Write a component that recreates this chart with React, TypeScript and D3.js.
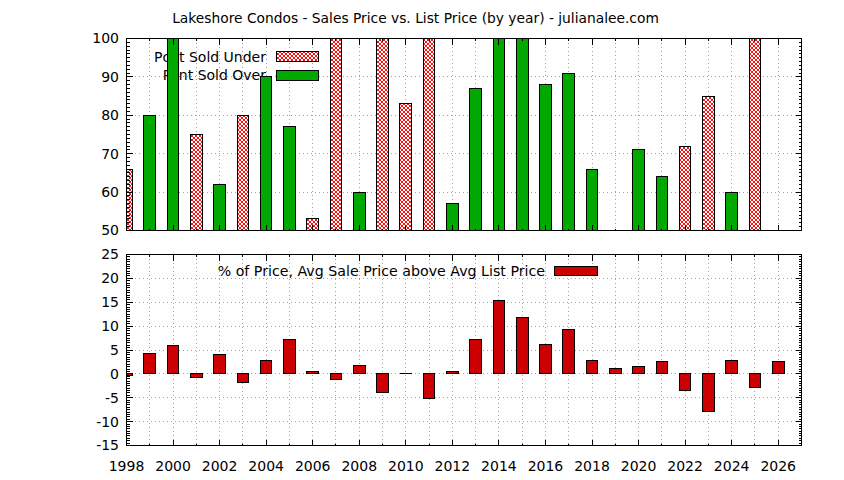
import React from "react";
import * as d3 from "d3";

const years = [1998, 1999, 2000, 2001, 2002, 2003, 2004, 2005, 2006, 2007, 2008, 2009, 2010, 2011, 2012, 2013, 2014, 2015, 2016, 2017, 2018, 2019, 2020, 2021, 2022, 2023, 2024, 2025, 2026];
const pctSoldUnder = [66, 20, 0, 75, 38, 80, 10, 23, 53, 100, 40, 100, 83, 100, 43, 13, 0, 0, 12, 9, 34, 50, 29, 36, 72, 85, 40, 100, 50];
const pctSoldOver = [34, 80, 100, 25, 62, 20, 90, 77, 47, 0, 60, 0, 17, 0, 57, 87, 100, 100, 88, 91, 66, 50, 71, 64, 28, 15, 60, 0, 50];
const pctAboveList = [-0.4, 4.2, 5.9, -0.7, 4.0, -1.9, 2.7, 7.3, 0.4, -1.1, 1.7, -4.0, 0.0, -5.1, 0.4, 7.3, 15.3, 11.9, 6.1, 9.2, 2.9, 1.1, 1.5, 2.5, -3.4, -7.8, 2.9, -2.9, 2.5];
const topYTicks = [50, 60, 70, 80, 90, 100];
const bottomYTicks = [-15, -10, -5, 0, 5, 10, 15, 20, 25];
const xTickLabels = [1998, 2000, 2002, 2004, 2006, 2008, 2010, 2012, 2014, 2016, 2018, 2020, 2022, 2024, 2026];

const W = 844;
const H = 480;
const L = 126.5;
const R = 801.5;
const T1 = 38.5;
const B1 = 230.5;
const T2 = 254.5;
const B2 = 445.5;
const FONT = "'DejaVu Sans', sans-serif";
const GREEN = "#00a800";
const RED = "#cc0000";
const GRID = "#a0a0a0";

function barPath(x0: number, x1: number, y0: number, y1: number) {
  return `M${x0},${y0}H${x1}V${y1}H${x0}Z`;
}

export default function App() {
  const x = d3.scaleLinear().domain([1998, 2027]).range([L, R]);
  const y1 = d3.scaleLinear().domain([50, 100]).range([B1, T1]);
  const y2 = d3.scaleLinear().domain([-15, 25]).range([B2, T2]);
  const bw = 0.25;
  const snap = (v: number) => Math.round(v - 0.5) + 0.5;

  const yearMinor = years;
  const y1Minor = y1.ticks(50);
  const y2Minor = y2.ticks(80);

  const panelFrame = (top: number, bottom: number, yScale: d3.ScaleLinear<number, number>, majors: number[], minors: number[], key: string) => (
    <g key={key} shapeRendering="crispEdges">
      {yearMinor.map((yr) => {
        const major = xTickLabels.includes(yr);
        const len = major ? 6 : 2;
        const xx = snap(x(yr));
        return (
          <g key={"xt" + yr}>
            <line x1={xx} x2={xx} y1={top} y2={top + len} stroke="#000" />
            <line x1={xx} x2={xx} y1={bottom} y2={bottom - len} stroke="#000" />
          </g>
        );
      })}
      {minors.map((v) => {
        const yy = snap(yScale(v));
        const len = majors.includes(v) ? 6 : 3;
        return (
          <g key={"yt" + v}>
            <line x1={L} x2={L + len} y1={yy} y2={yy} stroke="#000" />
            <line x1={R} x2={R - len} y1={yy} y2={yy} stroke="#000" />
          </g>
        );
      })}
      <rect x={L} y={top} width={R - L} height={bottom - top} fill="none" stroke="#000" />
    </g>
  );

  const grid = (top: number, bottom: number, yScale: d3.ScaleLinear<number, number>, majors: number[], key: string) => (
    <g key={key} stroke={GRID} strokeDasharray="1,3" shapeRendering="crispEdges">
      {years.map((yr) => {
        const xx = snap(x(yr));
        return <line key={"gx" + yr} x1={xx} x2={xx} y1={top} y2={bottom} />;
      })}
      {majors
        .filter((v) => yScale(v) > top + 1 && yScale(v) < bottom - 1)
        .map((v) => {
          const yy = snap(yScale(v));
          return <line key={"gy" + v} x1={L} x2={R} y1={yy} y2={yy} />;
        })}
    </g>
  );

  return (
    <svg width={W} height={H} style={{ position: "absolute", left: 0, top: 0, background: "#fff" }} fontFamily={FONT}>
      <defs>
        <pattern id="hatch" width="4" height="4" patternUnits="userSpaceOnUse">
          <rect width="4" height="4" fill="#fff" />
          <path d="M0,0L4,4M4,0L0,4" stroke="#ff1010" strokeWidth="1" />
        </pattern>
        <clipPath id="clipTop">
          <rect x={L} y={T1} width={R - L} height={B1 - T1} />
        </clipPath>
        <clipPath id="clipBottom">
          <rect x={L} y={T2} width={R - L} height={B2 - T2} />
        </clipPath>
      </defs>
      <rect width={W} height={H} fill="#fff" />

      <text x={415.5} y={23} textAnchor="middle" fontSize={13.8} fill="#000">
        Lakeshore Condos - Sales Price vs. List Price (by year) - julianalee.com
      </text>

      {/* Top panel */}
      {grid(T1, B1, y1, topYTicks, "g1")}
      <g fontSize={14} fill="#000">
        <text x={266} y={57} dy="0.35em" textAnchor="end">Pcnt Sold Under</text>
        <text x={266} y={75.5} dy="0.35em" textAnchor="end">Pcnt Sold Over</text>
      </g>
      <g shapeRendering="crispEdges">
        <rect x={276.5} y={51.5} width={42} height={10} fill="url(#hatch)" stroke="#000" />
        <rect x={276.5} y={70.5} width={42} height={10} fill={GREEN} stroke="#000" />
      </g>
      <g clipPath="url(#clipTop)" shapeRendering="crispEdges">
        {years.map((yr, i) =>
          pctSoldUnder[i] > 50 ? (
            <path key={"u" + yr} d={barPath(snap(x(yr - bw)), snap(x(yr + bw)), snap(y1(50)), snap(y1(Math.min(pctSoldUnder[i], 100))))} fill="url(#hatch)" stroke="#000" />
          ) : null
        )}
        {years.map((yr, i) =>
          pctSoldOver[i] > 50 ? (
            <path key={"o" + yr} d={barPath(snap(x(yr - bw)), snap(x(yr + bw)), snap(y1(50)), snap(y1(Math.min(pctSoldOver[i], 100))))} fill={GREEN} stroke="#000" />
          ) : null
        )}
      </g>
      {panelFrame(T1, B1, y1, topYTicks, y1Minor, "f1")}
      <g fontSize={14} fill="#000" textAnchor="end">
        {topYTicks.map((v) => (
          <text key={"l1" + v} x={119} y={y1(v)} dy="0.35em">{v}</text>
        ))}
      </g>

      {/* Bottom panel */}
      {grid(T2, B2, y2, bottomYTicks, "g2")}
      <text x={545} y={271.3} dy="0.35em" textAnchor="end" fontSize={14.2} fill="#000">
        % of Price, Avg Sale Price above Avg List Price
      </text>
      <rect x={554.5} y={266.5} width={43} height={9} fill={RED} stroke="#000" shapeRendering="crispEdges" />
      <g clipPath="url(#clipBottom)" shapeRendering="crispEdges">
        {years.map((yr, i) => (
          <path key={"d" + yr} d={barPath(snap(x(yr - bw)), snap(x(yr + bw)), snap(y2(0)), snap(y2(pctAboveList[i])))} fill={RED} stroke="#000" />
        ))}
      </g>
      {panelFrame(T2, B2, y2, bottomYTicks, y2Minor, "f2")}
      <g fontSize={14} fill="#000" textAnchor="end">
        {bottomYTicks.map((v) => (
          <text key={"l2" + v} x={119} y={y2(v)} dy="0.35em">{v}</text>
        ))}
      </g>
      <g fontSize={14} fill="#000" textAnchor="middle">
        {xTickLabels.map((yr) => (
          <text key={"xl" + yr} x={x(yr)} y={471}>{yr}</text>
        ))}
      </g>
    </svg>
  );
}
